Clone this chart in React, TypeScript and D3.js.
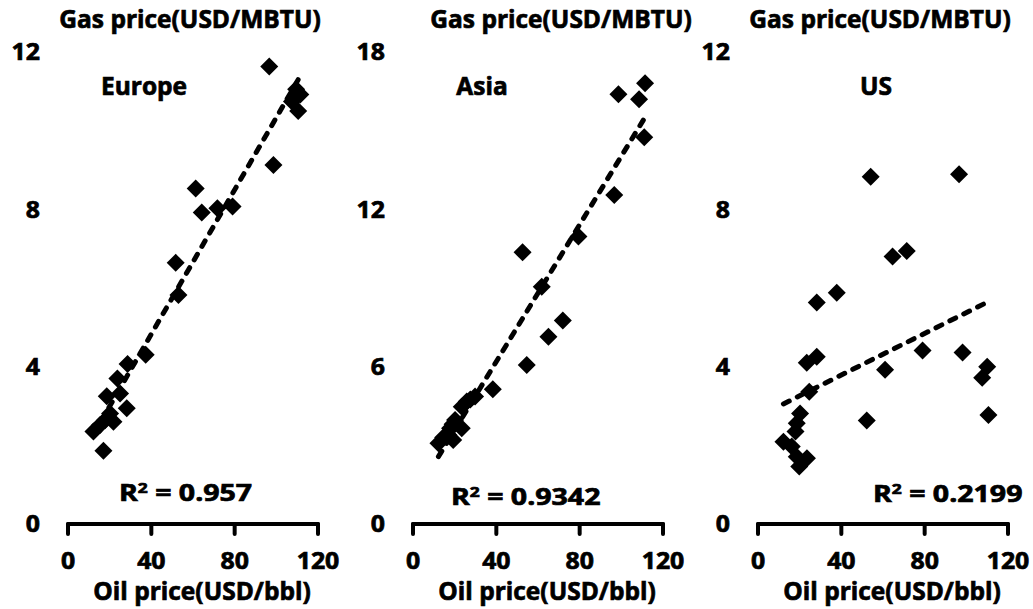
import React from 'react';
import * as d3 from 'd3';

// ---------- data ----------
const europeOil = [96.6, 109.5, 111.5, 107.5, 110.5, 98.6, 61.3, 64.2, 71.7, 79.0, 51.7, 53.0, 37.3, 28.6, 23.7, 18.6, 25.0, 28.2, 20.2, 17.8, 15.4, 21.8, 12.2, 17.0];
const europeGas = [11.63, 11.05, 10.92, 10.74, 10.5, 9.13, 8.53, 7.92, 8.03, 8.07, 6.64, 5.82, 4.30, 4.07, 3.70, 3.25, 3.32, 2.94, 2.81, 2.64, 2.52, 2.60, 2.35, 1.86];

const asiaOil = [111.4, 98.6, 108.5, 111.0, 96.6, 79.4, 52.6, 61.8, 71.9, 65.0, 54.6, 38.3, 29.8, 27.5, 25.8, 23.4, 20.2, 19.0, 23.4, 17.8, 17.0, 19.3, 14.5, 12.2];
const asiaGas = [16.81, 16.39, 16.2, 14.75, 12.55, 10.96, 10.36, 9.05, 7.76, 7.14, 6.06, 5.14, 4.86, 4.75, 4.67, 4.47, 3.97, 3.8, 3.65, 3.65, 3.39, 3.2, 3.3, 3.08];

const usOil = [54.1, 96.5, 64.6, 71.4, 28.2, 37.8, 23.4, 28.2, 79.0, 98.2, 61.0, 110.0, 107.6, 110.6, 52.2, 24.6, 20.2, 18.6, 18.0, 12.2, 16.2, 18.6, 19.8, 23.5];
const usGas = [8.83, 8.89, 6.80, 6.94, 5.63, 5.88, 4.10, 4.25, 4.41, 4.36, 3.92, 4.0, 3.72, 2.77, 2.63, 3.36, 2.81, 2.56, 2.35, 2.09, 1.97, 1.71, 1.46, 1.67];

const xTicks = [0, 40, 80, 120];
const europeYTicks = [0, 4, 8, 12];
const asiaYTicks = [0, 6, 12, 18];
const usYTicks = [0, 4, 8, 12];
const regionNames = ['Europe', 'Asia', 'US'];
const r2Values = ['0.957', '0.9342', '0.2199'];
const yTitle = 'Gas price(USD/MBTU)';
const xTitle = 'Oil price(USD/bbl)';

// ---------- layout ----------
const W = 1033;
const H = 609;
const FONT = "'Open Sans', 'Noto Sans', sans-serif";
const TEXT_STROKE = 0.7;

type PanelCfg = {
  ox: number;
  oil: number[];
  gas: number[];
  yTicks: number[];
  name: string;
  r2: string;
  titleX: number;
  nameX: number;
  r2X: number;
  r2Y: number;
};

const panels: PanelCfg[] = [
  { ox: 0, oil: europeOil, gas: europeGas, yTicks: europeYTicks, name: regionNames[0], r2: r2Values[0], titleX: 190, nameX: 144, r2X: 119, r2Y: 493 },
  { ox: 345, oil: asiaOil, gas: asiaGas, yTicks: asiaYTicks, name: regionNames[1], r2: r2Values[1], titleX: 216, nameX: 137, r2X: 106, r2Y: 497 },
  { ox: 690, oil: usOil, gas: usGas, yTicks: usYTicks, name: regionNames[2], r2: r2Values[2], titleX: 190, nameX: 186, r2X: 183, r2Y: 494 },
];

function T(props: { x: number; y: number; anchor?: string; size?: number; sx?: number; children: React.ReactNode }) {
  const { x, y, anchor = 'middle', size = 22, sx = 1, children } = props;
  return (
    <text
      transform={`translate(${x},${y}) scale(${sx},1)`}
      textAnchor={anchor}
      dy="0.36em"
      fontFamily={FONT}
      fontWeight={700}
      fontSize={size}
      fill="#000"
      stroke="#000"
      strokeWidth={TEXT_STROKE}
    >
      {children}
    </text>
  );
}

function regression(xs: number[], ys: number[]) {
  const mx = d3.mean(xs)!;
  const my = d3.mean(ys)!;
  let sxy = 0, sxx = 0;
  xs.forEach((x, i) => {
    sxy += (x - mx) * (ys[i] - my);
    sxx += (x - mx) * (x - mx);
  });
  const b = sxy / sxx;
  const a = my - b * mx;
  return { a, b };
}

function Panel({ cfg }: { cfg: PanelCfg }) {
  const { ox, oil, gas, yTicks } = cfg;
  const x = d3.scaleLinear().domain([0, 120]).range([ox + 68, ox + 318]);
  const y = d3.scaleLinear().domain([0, yTicks[yTicks.length - 1]]).range([524, 52]);
  const { a, b } = regression(oil, gas);
  const [xmin, xmax] = d3.extent(oil) as [number, number];
  const line = d3.line<number>().x((v) => x(v)).y((v) => y(a + b * v));
  const diamond = 'M0,-9L9,0L0,9L-9,0Z';
  const axisY = y(0);

  return (
    <g>
      <T x={ox + cfg.titleX} y={19} size={24.5}>{yTitle}</T>
      {yTicks.map((t) => (
        <T key={t} x={ox + 40} y={y(t)} anchor="end" size={23} sx={1.08}>{String(t)}</T>
      ))}
      <T x={ox + cfg.nameX} y={86} size={24.5}>{cfg.name}</T>
      <line x1={x(0)} x2={x(120)} y1={axisY} y2={axisY} stroke="#000" strokeWidth={4} strokeLinecap="round" />
      {xTicks.map((t) => (
        <line key={t} x1={x(t)} x2={x(t)} y1={axisY} y2={axisY + 10} stroke="#000" strokeWidth={4} strokeLinecap="round" />
      ))}
      {xTicks.map((t) => (
        <T key={'l' + t} x={x(t)} y={561} size={23} sx={1.08}>{String(t)}</T>
      ))}
      <T x={ox + 202} y={591} size={24.5}>{xTitle}</T>
      {oil.map((v, i) => (
        <path key={i} d={diamond} transform={`translate(${x(v)},${y(gas[i])})`} fill="#000" />
      ))}
      <path d={line([xmin, xmax]) || ''} fill="none" stroke="#000" strokeWidth={5} strokeLinecap="round" strokeDasharray="6.5 9" />
      <text
        transform={`translate(${ox + cfg.r2X},${cfg.r2Y}) scale(1.24,1)`}
        textAnchor="start"
        dy="0.36em"
        fontFamily={FONT}
        fontWeight={700}
        fontSize={23}
        fill="#000"
        stroke="#000"
        strokeWidth={TEXT_STROKE}
      >
        <tspan>R</tspan>
        <tspan fontSize={14} dy="-8">2</tspan>
        <tspan dy="8">{` = ${cfg.r2}`}</tspan>
      </text>
    </g>
  );
}

export default function App() {
  return (
    <svg
      width={W}
      height={H}
      viewBox={`0 0 ${W} ${H}`}
      style={{ position: 'absolute', left: 0, top: 0, background: '#fff' }}
    >
      <rect width={W} height={H} fill="#fff" />
      {panels.map((p) => (
        <Panel key={p.name} cfg={p} />
      ))}
    </svg>
  );
}
